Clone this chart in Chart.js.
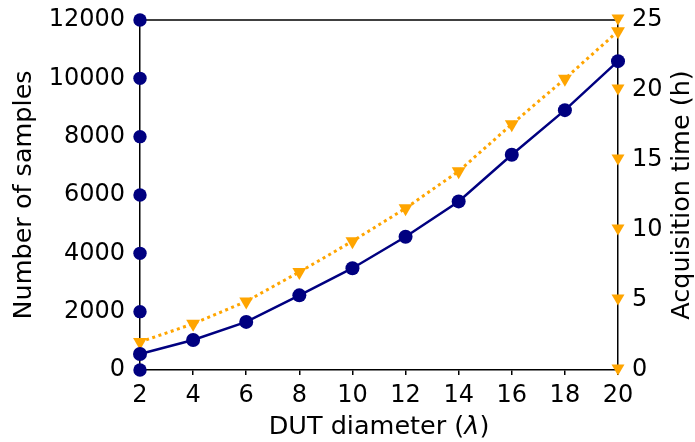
<!DOCTYPE html>
<html>
<head>
<meta charset="utf-8">
<script src="https://cdn.jsdelivr.net/npm/chart.js@4/dist/chart.umd.min.js"></script>
<style>
  body { margin: 0; background: #fff; }
  canvas { display: block; }
</style>
</head>
<body>
<canvas id="chartCanvas" width="695" height="442"></canvas>
<script>
// ---------------- data ----------------
const diameters = [2, 4, 6, 8, 10, 12, 14, 16, 18, 20];
const samples = [550, 1030, 1650, 2560, 3490, 4570, 5780, 7380, 8910, 10590];
const hours = [2.0, 3.3, 4.9, 7.0, 9.2, 11.55, 14.2, 17.55, 20.8, 24.2];
const xTitleParts = ['DUT diameter (', 'λ', ')'];
const rightTitle = 'Acquisition time (h)';

const NAVY = '#000080';
const ORANGE = '#FFA500';
const FONT = "'DejaVu Sans', sans-serif";
const TITLE_SIZE = 25.5;

// ---------------- axis markers, top spine, titles ----------------
const axisMarkers = {
  id: 'axisMarkers',
  afterDraw(chart) {
    const c = chart.ctx;
    const area = chart.chartArea;
    const y = chart.scales.y;
    const y1 = chart.scales.y1;

    c.save();
    c.strokeStyle = '#000';
    c.lineWidth = 1.5;
    c.beginPath();
    c.moveTo(area.left, area.top);
    c.lineTo(area.right, area.top);
    c.stroke();

    c.fillStyle = NAVY;
    y.ticks.forEach(t => {
      const py = y.getPixelForValue(t.value);
      c.beginPath();
      c.arc(area.left, py, 6.7, 0, Math.PI * 2);
      c.fill();
    });

    c.fillStyle = ORANGE;
    y1.ticks.forEach(t => {
      const py = y1.getPixelForValue(t.value);
      c.beginPath();
      c.moveTo(area.right - 6.5, py - 5.5);
      c.lineTo(area.right + 6.5, py - 5.5);
      c.lineTo(area.right, py + 5.5);
      c.closePath();
      c.fill();
    });

    // x title, lambda in italic like the math text
    c.fillStyle = '#000';
    c.textBaseline = 'alphabetic';
    c.textAlign = 'left';
    const fonts = [TITLE_SIZE + 'px ' + FONT, 'italic ' + TITLE_SIZE + 'px ' + FONT, TITLE_SIZE + 'px ' + FONT];
    const widths = xTitleParts.map((p, i) => { c.font = fonts[i]; return c.measureText(p).width; });
    let tx = (area.left + area.right) / 2 - widths.reduce((a, b) => a + b, 0) / 2;
    xTitleParts.forEach((p, i) => { c.font = fonts[i]; c.fillText(p, tx, 434); tx += widths[i]; });

    // right axis title reads bottom-to-top like the left one
    c.translate(682, (area.top + area.bottom) / 2);
    c.rotate(-Math.PI / 2);
    c.font = TITLE_SIZE + 'px ' + FONT;
    c.textAlign = 'center';
    c.textBaseline = 'middle';
    c.fillText(rightTitle, 0, 0);
    c.restore();
  }
};

const toXY = vals => vals.map((v, i) => ({ x: diameters[i], y: v }));
const plainTick = v => String(v);

const ctx = document.getElementById('chartCanvas').getContext('2d');
const chart = new Chart(ctx, {
  type: 'line',
  data: {
    datasets: [
      {
        label: 'Number of samples', data: toXY(samples), yAxisID: 'y',
        borderColor: NAVY, backgroundColor: NAVY, borderWidth: 2.5,
        pointStyle: 'circle', pointRadius: 7, pointBorderWidth: 0,
        tension: 0, clip: false
      },
      {
        label: 'Acquisition time', data: toXY(hours), yAxisID: 'y1',
        borderColor: ORANGE, backgroundColor: ORANGE, borderWidth: 3,
        borderDash: [3, 3.5], borderCapStyle: 'butt',
        pointStyle: 'triangle', rotation: 180, pointRadius: 8, pointBorderWidth: 0,
        tension: 0, clip: false
      }
    ]
  },
  options: {
    responsive: false,
    animation: false,
    layout: { padding: { top: 20, left: 0, right: 0, bottom: 0 } },
    plugins: { legend: { display: false }, tooltip: { enabled: false } },
    scales: {
      x: {
        type: 'linear', min: 2, max: 20,
        afterFit: s => { s.height = 72; s.paddingLeft = 0; s.paddingRight = 0; },
        ticks: { stepSize: 2, color: '#000', font: { family: FONT, size: 24 }, padding: 6, maxRotation: 0, callback: plainTick },
        grid: { drawOnChartArea: false, drawTicks: true, tickLength: 5, color: '#000', lineWidth: 1.5 },
        border: { color: '#000', width: 1.5 },
        title: { display: false }
      },
      y: {
        position: 'left', min: 0, max: 12000,
        afterFit: s => { s.width = 140; s.paddingTop = 0; s.paddingBottom = 0; },
        ticks: { stepSize: 2000, color: '#000', font: { family: FONT, size: 24 }, padding: 15, callback: plainTick },
        grid: { display: false, drawTicks: false },
        border: { color: '#000', width: 1.5 },
        title: { display: true, text: 'Number of samples', color: '#000', font: { family: FONT, size: TITLE_SIZE }, padding: { top: 9, bottom: 0 } }
      },
      y1: {
        position: 'right', min: 0, max: 25,
        afterFit: s => { s.width = 77; s.paddingTop = 0; s.paddingBottom = 0; },
        ticks: { stepSize: 5, color: '#000', font: { family: FONT, size: 24 }, padding: 14, callback: plainTick },
        grid: { display: false, drawTicks: false },
        border: { color: '#000', width: 1.5 },
        title: { display: false }
      }
    }
  },
  plugins: [axisMarkers]
});
</script>
</body>
</html>
